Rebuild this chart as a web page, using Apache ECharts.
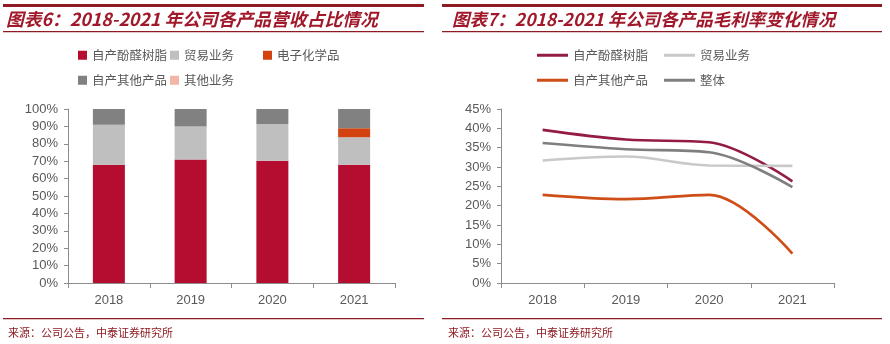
<!DOCTYPE html>
<html>
<head>
<meta charset="utf-8">
<script src="https://cdn.jsdelivr.net/npm/echarts@6/dist/echarts.min.js"></script>
<style>
  html, body { margin: 0; padding: 0; background: #fff; }
  #chart { width: 890px; height: 344px; }
</style>
</head>
<body>
<div id="chart"></div>
<script>
// Years shared by both panels
const years = ['2018', '2019', '2020', '2021'];

// Revenue share by product line (%), stacked to 100
const shareResin = [68, 71, 70.3, 68];
const shareTrade = [23, 19, 21.1, 15.7];
const shareElectronic = [0, 0, 0, 5.3];
const shareOtherProducts = [9, 10, 8.6, 11];
const shareOtherBusiness = [0, 0, 0, 0];

// Gross margin by product line (%)
const marginResin = [39.6, 37.1, 36.4, 26.3];
const marginTrade = [31.7, 32.7, 30.4, 30.3];
const marginOtherProducts = [22.8, 21.7, 22.8, 7.6];
const marginOverall = [36.2, 34.6, 33.8, 24.8];

// Tick labels
const shareTicks = [0, 10, 20, 30, 40, 50, 60, 70, 80, 90, 100];
const marginTicks = [0, 5, 10, 15, 20, 25, 30, 35, 40, 45];

const CJK = '"Noto Sans CJK SC", "Noto Sans", sans-serif';
const LATIN = '"Liberation Sans", Arial, sans-serif';
const titleRed = '#A0182A';
const ruleRed = '#8E1B22';
const axisGray = '#8C8C8C';
const labelGray = '#595959';

const colors = {
  resinBar: '#B40D2F', tradeBar: '#BFBFBF', electronicBar: '#D2430F',
  otherProdBar: '#818181', otherBizBar: '#F2B5A6',
  resinLine: '#941C42', tradeLine: '#C9C9C9', otherProdLine: '#CF4E17', overallLine: '#7F7F7F'
};

const chart = echarts.init(document.getElementById('chart'), null, { renderer: 'canvas' });

function legendItem(name, color, left, top, w, h) {
  return {
    data: [{ name: name, itemStyle: { color: color }, lineStyle: { color: color } }],
    left: left, top: top, orient: 'horizontal',
    icon: 'rect', itemWidth: w, itemHeight: h, itemGap: 0,
    padding: 0,
    textStyle: { fontFamily: CJK, fontSize: 12.5, color: labelGray },
    selectedMode: false
  };
}

function valueAxis(gridIndex, max, interval) {
  return {
    type: 'value', gridIndex: gridIndex, min: 0, max: max, interval: interval,
    axisLine: { show: true, lineStyle: { color: axisGray, width: 1 } },
    axisTick: { show: true, inside: false, length: 4, lineStyle: { color: axisGray } },
    splitLine: { show: false },
    axisLabel: {
      formatter: '{value}%', fontFamily: LATIN, fontSize: 13, color: labelGray, margin: 10
    }
  };
}

function categoryAxis(gridIndex) {
  return {
    type: 'category', gridIndex: gridIndex, data: years, boundaryGap: true,
    axisLine: { show: true, lineStyle: { color: axisGray, width: 1 } },
    axisTick: { show: true, length: 5, lineStyle: { color: axisGray } },
    axisLabel: { fontFamily: LATIN, fontSize: 13, color: labelGray, margin: 11 }
  };
}

function bar(name, data, color) {
  return {
    name: name, type: 'bar', stack: 'share', data: data, barWidth: 32,
    xAxisIndex: 0, yAxisIndex: 0, itemStyle: { color: color }
  };
}

function line(name, data, color) {
  return {
    name: name, type: 'line', smooth: 0.35, data: data, showSymbol: false,
    xAxisIndex: 1, yAxisIndex: 1,
    lineStyle: { color: color, width: 2.6 }, itemStyle: { color: color }
  };
}

function rule(x, y, w, h) {
  return { type: 'rect', shape: { x: x, y: y, width: w, height: h }, style: { fill: ruleRed }, silent: true };
}

function text(x, y, str, size, color, weight, style) {
  return {
    type: 'text', x: x, y: y, silent: true,
    style: {
      text: str, fill: color, fontSize: size, fontFamily: CJK,
      fontWeight: weight, fontStyle: style, textVerticalAlign: 'middle'
    }
  };
}

const option = {
  backgroundColor: '#ffffff',
  animation: false,
  grid: [
    { left: 68, right: 495, top: 109, bottom: 61 },
    { left: 501, right: 56, top: 109, bottom: 61 }
  ],
  xAxis: [categoryAxis(0), categoryAxis(1)],
  yAxis: [valueAxis(0, 100, 10), valueAxis(1, 45, 5)],
  legend: [
    legendItem('自产酚醛树脂', colors.resinBar, 78, 49, 9, 9),
    legendItem('贸易业务', colors.tradeBar, 170, 49, 9, 9),
    legendItem('电子化学品', colors.electronicBar, 263, 49, 9, 9),
    legendItem('自产其他产品', colors.otherProdBar, 78, 74, 9, 9),
    legendItem('其他业务', colors.otherBizBar, 170, 74, 9, 9),
    legendItem('自产酚醛树脂', colors.resinLine, 537, 49, 31, 3),
    legendItem('贸易业务', colors.tradeLine, 664, 49, 31, 3),
    legendItem('自产其他产品', colors.otherProdLine, 537, 74, 31, 3),
    legendItem('整体', colors.overallLine, 664, 74, 31, 3)
  ],
  series: [
    bar('自产酚醛树脂', shareResin, colors.resinBar),
    bar('贸易业务', shareTrade, colors.tradeBar),
    bar('电子化学品', shareElectronic, colors.electronicBar),
    bar('自产其他产品', shareOtherProducts, colors.otherProdBar),
    bar('其他业务', shareOtherBusiness, colors.otherBizBar),
    line('自产酚醛树脂', marginResin, colors.resinLine),
    line('贸易业务', marginTrade, colors.tradeLine),
    line('自产其他产品', marginOtherProducts, colors.otherProdLine),
    line('整体', marginOverall, colors.overallLine)
  ],
  graphic: [
    rule(3, 4, 421, 3),
    rule(3, 31, 421, 1.2),
    rule(442, 4, 440, 3),
    rule(442, 31, 440, 1.2),
    rule(3, 318, 421, 1.2),
    rule(442, 318, 440, 1.2),
    text(6, 19, '图表6：2018-2021 年公司各产品营收占比情况', 17.8, titleRed, 'bold', 'italic'),
    text(452, 19, '图表7：2018-2021 年公司各产品毛利率变化情况', 17.5, titleRed, 'bold', 'italic'),
    text(8, 333, '来源：公司公告，中泰证券研究所', 11, '#8E1B22', 'normal', 'normal'),
    text(448, 333, '来源：公司公告，中泰证券研究所', 11, '#8E1B22', 'normal', 'normal')
  ]
};

chart.setOption(option);
</script>
</body>
</html>
